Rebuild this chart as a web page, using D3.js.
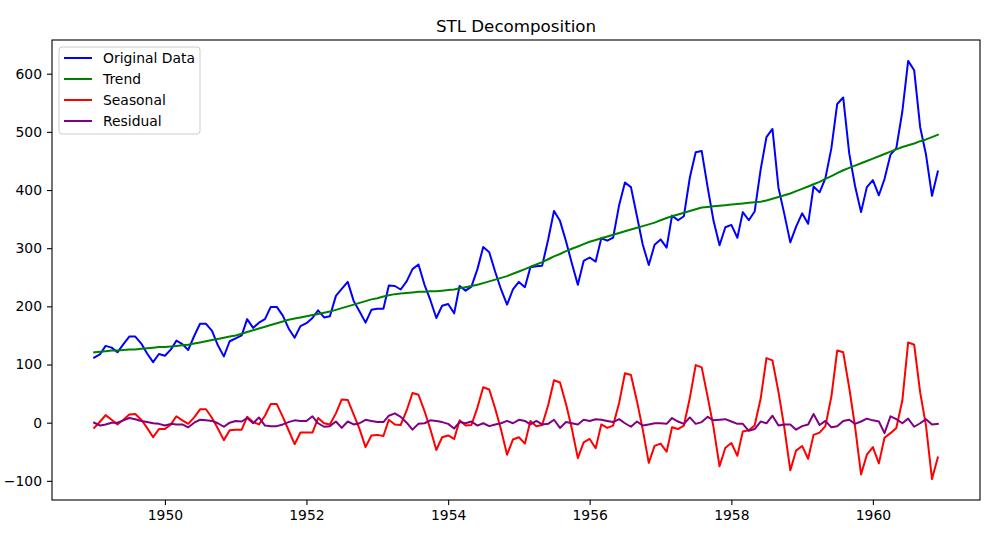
<!DOCTYPE html>
<html>
<head>
<meta charset="utf-8">
<script src="https://cdn.jsdelivr.net/npm/d3@7"></script>
<style>
  body { margin: 0; background: #ffffff; }
  #chart-div { width: 1005px; height: 539px; }
  text { font-family: "DejaVu Sans", sans-serif; }
</style>
</head>
<body>
<div id="chart-div"></div>
<script>
// --- Data (monthly, Jan 1949 .. Dec 1960) ---
const startYear = 1949;
const xTickYears = [1950, 1952, 1954, 1956, 1958, 1960];
const yTicks = [-100, 0, 100, 200, 300, 400, 500, 600];

const original = [
  112, 118, 132, 129, 121, 135, 148, 148, 136, 119, 104, 118,
  115, 126, 141, 135, 125, 149, 170, 170, 158, 133, 114, 140,
  145, 150, 178, 163, 172, 178, 199, 199, 184, 162, 146, 166,
  171, 180, 193, 181, 183, 218, 230, 242, 209, 191, 172, 194,
  196, 196, 236, 235, 229, 243, 264, 272, 237, 211, 180, 201,
  204, 188, 235, 227, 234, 264, 302, 293, 259, 229, 203, 229,
  242, 233, 267, 269, 270, 315, 364, 347, 312, 274, 237, 278,
  284, 277, 317, 313, 318, 374, 413, 405, 355, 306, 271, 306,
  315, 301, 356, 348, 355, 422, 465, 467, 404, 347, 305, 336,
  340, 318, 362, 348, 363, 435, 491, 505, 404, 359, 310, 337,
  360, 342, 406, 396, 420, 472, 548, 559, 463, 407, 362, 405,
  417, 391, 419, 461, 472, 535, 622, 606, 508, 461, 390, 432
];

const trend = [
  121, 122, 123, 124, 124, 125, 126, 126, 127, 128, 129, 130,
  130, 131, 132, 133, 134, 136, 138, 140, 142, 144, 146, 148,
  150, 153, 156, 159, 162, 165, 168, 171, 174, 177, 179, 181,
  183, 185, 187, 189, 191, 194, 197, 200, 203, 206, 209, 212,
  214, 217, 219, 221, 222, 223, 224, 225, 225, 226, 226, 227,
  228, 229, 231, 233, 235, 237, 240, 243, 246, 249, 252, 256,
  260, 264, 268, 272, 276, 281, 286, 290, 295, 299, 303, 307,
  311, 314, 317, 320, 323, 326, 329, 332, 335, 338, 341, 344,
  348, 352, 355, 358, 361, 364, 367, 370, 371, 372, 373, 374,
  375, 376, 377, 378, 379, 380, 382, 385, 388, 391, 394, 398,
  402, 406, 410, 414, 419, 424, 429, 434, 438, 442, 446, 450,
  454, 458, 462, 466, 470, 474, 477, 480, 484, 487, 491, 495
];

const seasonal = [
  -9, 2, 13, 5, -3, 5, 14, 15, 5, -9, -25, -11,
  -11, -3, 11, 4, -2, 9, 23, 23, 8, -10, -30, -13,
  -12, -12, 10, 1, -3, 12, 32, 32, 10, -13, -37, -17,
  -17, -17, 8, -1, -3, 16, 40, 39, 14, -11, -42, -22,
  -21, -23, 5, -3, -4, 21, 51, 48, 20, -11, -47, -25,
  -22, -28, 4, -5, -4, 26, 61, 57, 24, -12, -55, -29,
  -25, -36, 3, -6, -4, 30, 73, 69, 32, -10, -61, -34,
  -28, -44, -3, -9, -5, 34, 85, 82, 37, -12, -69, -40,
  -36, -50, -8, -11, -5, 43, 99, 95, 44, -8, -75, -43,
  -35, -57, -15, -13, -5, 41, 111, 107, 53, -8, -82, -48,
  -40, -62, -21, -17, -6, 45, 124, 121, 60, -7, -89, -55,
  -42, -70, -26, -18, -9, 38, 138, 134, 52, -5, -97, -60
];

const residual = [
  0, -5, -3, 0, 0, 4, 8, 6, 3, 1, -1, -2,
  -5, -2, -3, -3, -8, 0, 5, 4, 3, -1, -7, 0,
  3, 2, 8, -1, 9, -5, -6, -6, -3, 1, 4, 3,
  3, 11, -1, -7, -6, 2, -9, 2, -3, -1, 5, 3,
  1, 1, 12, 16, 10, 0, -12, -2, -1, 4, 3, 1,
  -2, -10, 1, -1, 2, -5, -1, -6, -3, -1, 3, -1,
  5, 3, -3, 3, -3, -2, 5, -9, 1, -1, -3, 5,
  3, 6, 5, 3, 1, 6, -1, -7, 2, -5, -3, -1,
  -1, -2, 8, 2, -2, 9, -2, 1, 10, 4, 5, 6,
  2, -2, -2, -14, -11, 2, -1, 12, -5, -3, -3, -12,
  -6, -3, 15, -4, 3, -8, -6, 3, 5, -2, 2, 7,
  4, 2, -18, 11, 6, -1, 7, -7, -1, 6, -3, -2
];

const seriesNames = ['Original Data', 'Trend', 'Seasonal', 'Residual'];
const seriesColors = ['blue', 'green', 'red', 'purple'];

function drawChart() {
  const containerElement = document.getElementById('chart-div');
  const totalWidth = 1005;
  const totalHeight = 539;
  const margin = { top: 40, right: 25, bottom: 39, left: 52 };
  const width = totalWidth - margin.left - margin.right;
  const height = totalHeight - margin.top - margin.bottom;

  const dates = original.map((d, i) => new Date(startYear + Math.floor(i / 12), i % 12, 1));
  const allSeries = [original, trend, seasonal, residual];

  // matplotlib-style 5% padding on both axes
  const t0 = dates[0].getTime();
  const t1 = dates[dates.length - 1].getTime();
  const tPad = (t1 - t0) * 0.05;
  const x = d3.scaleTime()
    .domain([new Date(t0 - tPad), new Date(t1 + tPad)])
    .range([0, width]);

  const yMin = d3.min(allSeries, s => d3.min(s));
  const yMax = d3.max(allSeries, s => d3.max(s));
  const yPad = (yMax - yMin) * 0.05;
  const y = d3.scaleLinear()
    .domain([yMin - yPad, yMax + yPad])
    .range([height, 0]);

  const svg = d3.select(containerElement)
    .append('svg')
    .attr('width', totalWidth)
    .attr('height', totalHeight)
    .style('background-color', '#ffffff');

  const g = svg.append('g')
    .attr('transform', `translate(${margin.left},${margin.top})`);

  // --- Lines ---
  const line = d3.line()
    .x((d, i) => x(dates[i]))
    .y(d => y(d));

  allSeries.forEach((s, k) => {
    g.append('path')
      .datum(s)
      .attr('fill', 'none')
      .attr('stroke', seriesColors[k])
      .attr('stroke-width', 2)
      .attr('stroke-linejoin', 'round')
      .attr('stroke-linecap', 'square')
      .attr('d', line);
  });

  // --- Axes ---
  const xAxis = d3.axisBottom(x)
    .tickValues(xTickYears.map(yr => new Date(yr, 0, 1)))
    .tickFormat(d3.timeFormat('%Y'))
    .tickSize(5)
    .tickPadding(5);

  const yAxis = d3.axisLeft(y)
    .tickValues(yTicks)
    .tickFormat(d => d < 0 ? '\u2212' + Math.abs(d) : d)
    .tickSize(5)
    .tickPadding(5);

  const gx = g.append('g')
    .attr('transform', `translate(0,${height})`)
    .call(xAxis);
  const gy = g.append('g').call(yAxis);

  [gx, gy].forEach(ax => {
    ax.select('.domain').remove();
    ax.selectAll('.tick line').attr('stroke', '#000').attr('stroke-width', 1.1);
    ax.selectAll('.tick text')
      .attr('fill', '#000')
      .style('font-size', '13.9px')
      .style('font-family', '"DejaVu Sans", sans-serif');
  });

  // frame
  g.append('rect')
    .attr('x', 0)
    .attr('y', 0)
    .attr('width', width)
    .attr('height', height)
    .attr('fill', 'none')
    .attr('stroke', '#000')
    .attr('stroke-width', 1.1);

  // --- Title ---
  svg.append('text')
    .attr('x', margin.left + width / 2)
    .attr('y', margin.top - 8)
    .attr('text-anchor', 'middle')
    .style('font-size', '16.7px')
    .style('fill', '#000')
    .text('STL Decomposition');

  // --- Legend ---
  const legend = g.append('g').attr('transform', 'translate(7,7)');
  legend.append('rect')
    .attr('width', 141)
    .attr('height', 87)
    .attr('rx', 3)
    .attr('fill', '#ffffff')
    .attr('fill-opacity', 0.8)
    .attr('stroke', '#cccccc')
    .attr('stroke-width', 1);

  seriesNames.forEach((name, k) => {
    const row = legend.append('g').attr('transform', `translate(0,${11 + k * 21})`);
    row.append('line')
      .attr('x1', 5)
      .attr('x2', 33)
      .attr('stroke', seriesColors[k])
      .attr('stroke-width', 2);
    row.append('text')
      .attr('x', 44)
      .attr('dy', '0.35em')
      .style('font-size', '13.9px')
      .style('fill', '#000')
      .text(name);
  });
}

drawChart();
</script>
</body>
</html>
